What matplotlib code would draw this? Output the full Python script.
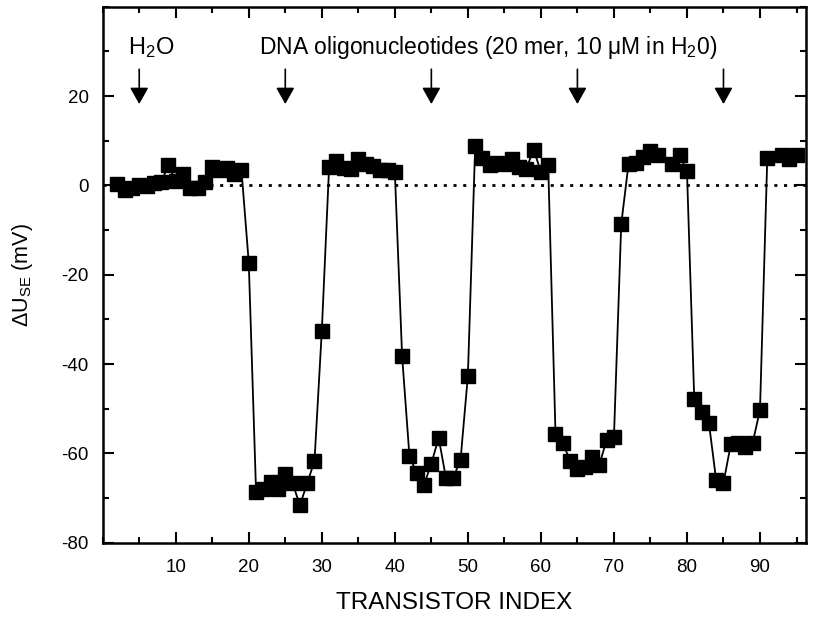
import numpy as np
import matplotlib
matplotlib.use("Agg")
import matplotlib.pyplot as plt
from matplotlib.ticker import MultipleLocator, FixedLocator

plt.rcParams['font.family'] = ['Liberation Sans', 'DejaVu Sans']
plt.rcParams['mathtext.fontset'] = 'custom'
plt.rcParams['mathtext.rm'] = 'Liberation Sans'
plt.rcParams['mathtext.it'] = 'Liberation Sans'
plt.rcParams['axes.unicode_minus'] = False

# transistor index (77 and 92 have no point)
index = [2, 3, 4, 5, 6, 7, 8, 9, 10, 11, 12, 13, 14, 15, 16, 17, 18, 19,
         20, 21, 22, 23, 24, 25, 26, 27, 28, 29, 30,
         31, 32, 33, 34, 35, 36, 37, 38, 39, 40,
         41, 42, 43, 44, 45, 46, 47, 48, 49, 50,
         51, 52, 53, 54, 55, 56, 57, 58, 59, 60, 61,
         62, 63, 64, 65, 66, 67, 68, 69, 70, 71,
         72, 73, 74, 75, 76, 78, 79, 80,
         81, 82, 83, 84, 85, 86, 87, 88, 89, 90,
         91, 93, 94, 95]
du_se = [0.2, -1.0, -0.6, 0.0, -0.1, 0.5, 0.7, 4.5, 0.9, 2.6, -0.6, -0.5, 0.7, 4.2, 3.4, 3.9, 2.6, 3.4,
         -17.3, -68.7, -68.0, -66.5, -67.9, -64.7, -66.7, -71.6, -66.7, -61.7, -32.6,
         4.1, 5.4, 3.9, 3.7, 5.8, 4.8, 4.3, 3.5, 3.5, 3.0,
         -38.3, -60.6, -64.5, -67.0, -62.3, -56.5, -65.5, -65.5, -61.4, -42.7,
         8.8, 6.2, 4.6, 5.0, 4.8, 6.0, 4.1, 3.7, 8.0, 3.1, 4.6,
         -55.6, -57.6, -61.7, -63.4, -63.0, -60.8, -62.6, -57.0, -56.4, -8.7,
         4.8, 5.0, 6.3, 7.8, 6.7, 4.8, 6.7, 3.2,
         -47.9, -50.7, -53.1, -66.0, -66.6, -58.0, -57.6, -58.5, -57.6, -50.3,
         6.2, 6.9, 5.8, 6.7]

arrow_x = [5, 25, 45, 65, 85]
x_ticks = [10, 20, 30, 40, 50, 60, 70, 80, 90]
y_ticks = [-80, -60, -40, -20, 0, 20]

fig = plt.figure(figsize=(8.25, 6.21), dpi=100)
ax = fig.add_axes([102.7 / 825, 1 - 542.7 / 621, (806 - 102.7) / 825, (542.7 - 6.7) / 621])

ax.axhline(0, color='k', lw=2.0, ls=(0, (1.1, 2.4)), zorder=1)
ax.plot(index, du_se, color='k', lw=1.3, marker='s', ms=10, mfc='k', mec='k', zorder=3)

for xa in arrow_x:
    ax.annotate('', xy=(xa, 18.2), xytext=(xa, 26),
                arrowprops=dict(arrowstyle='-|>,head_length=0.5,head_width=0.28',
                                mutation_scale=20, lw=1.2, color='k',
                                shrinkA=0, shrinkB=0))

ax.text(3.45, 29.5, 'H$_2$O', fontsize=17, va='baseline', ha='left')
ax.text(21.45, 29.5, 'DNA oligonucleotides (20 mer, 10 \u03bcM in H$_2$0)',
        fontsize=16.5, va='baseline', ha='left')

ax.set_xlim(0, 96.3)
ax.set_ylim(-80, 40)
ax.xaxis.set_major_locator(FixedLocator(x_ticks))
ax.xaxis.set_minor_locator(MultipleLocator(5))
ax.yaxis.set_major_locator(FixedLocator(y_ticks))
ax.yaxis.set_minor_locator(MultipleLocator(10))
ax.tick_params(which='both', direction='in', top=True, right=True, width=1.5,
               labelsize=13.5)
ax.tick_params(axis='x', which='both', pad=12)
ax.tick_params(axis='y', which='both', pad=10)
ax.tick_params(which='major', length=8)
ax.tick_params(which='minor', length=4.5)
for s in ax.spines.values():
    s.set_linewidth(1.8)

ax.set_xlabel('TRANSISTOR INDEX', fontsize=17.5, labelpad=11)
ax.set_ylabel('\u0394U$_{\\mathrm{SE}}$ (mV)', fontsize=15.5, labelpad=19)

fig.savefig('out.png', dpi=100)
